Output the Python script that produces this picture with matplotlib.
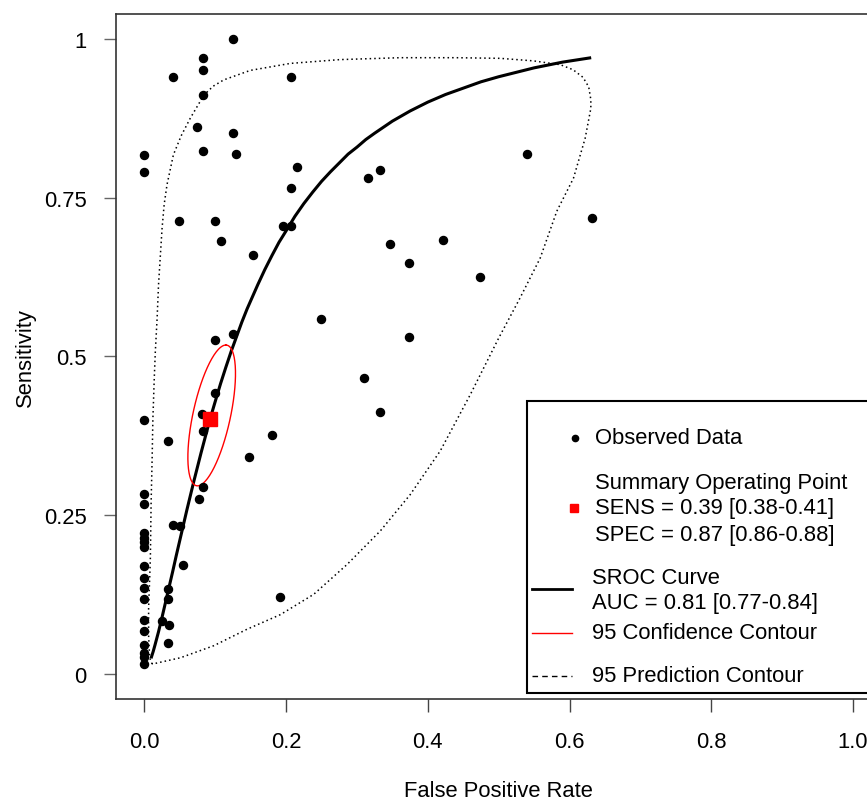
import numpy as np
import matplotlib.pyplot as plt
from matplotlib.patches import Rectangle

plt.rcParams['font.family'] = ['Liberation Sans', 'DejaVu Sans']

# observed studies (false positive rate, sensitivity)
fpr = [0.125, 0.083, 0.083, 0.041, 0.207, 0.083, 0.074, 0.125, 0.083, 0.130,
       0.000, 0.000, 0.215, 0.207, 0.332, 0.315, 0.049, 0.099, 0.196, 0.207,
       0.108, 0.346, 0.153, 0.374, 0.249, 0.374, 0.125, 0.099, 0.540, 0.631,
       0.421, 0.473, 0.310, 0.332, 0.000, 0.099, 0.082, 0.083, 0.033, 0.180,
       0.148, 0.083, 0.077, 0.000, 0.000, 0.041, 0.051, 0.000, 0.000, 0.000,
       0.000, 0.055, 0.000, 0.000, 0.000, 0.000, 0.033, 0.033, 0.192, 0.025,
       0.035, 0.033, 0.000, 0.000, 0.000, 0.000, 0.000, 0.000]
sens = [1.000, 0.971, 0.952, 0.941, 0.941, 0.912, 0.862, 0.853, 0.824, 0.819,
        0.818, 0.791, 0.798, 0.765, 0.794, 0.781, 0.714, 0.714, 0.705, 0.706,
        0.682, 0.678, 0.660, 0.647, 0.559, 0.530, 0.536, 0.526, 0.819, 0.719,
        0.683, 0.625, 0.466, 0.413, 0.400, 0.442, 0.409, 0.382, 0.367, 0.376,
        0.341, 0.294, 0.276, 0.283, 0.267, 0.235, 0.232, 0.221, 0.214, 0.207,
        0.200, 0.172, 0.169, 0.150, 0.135, 0.117, 0.134, 0.117, 0.120, 0.083,
        0.076, 0.049, 0.085, 0.067, 0.045, 0.033, 0.026, 0.015]

# summary operating point
summ_fpr, summ_sens = 0.093, 0.401

# SROC curve
sroc_fpr = [0.0094, 0.0125, 0.015, 0.02, 0.025, 0.03, 0.035, 0.04, 0.045, 0.05,
            0.055, 0.06, 0.065, 0.07, 0.075, 0.08, 0.085, 0.09, 0.095, 0.10,
            0.1075, 0.115, 0.1225, 0.13, 0.1375, 0.145, 0.1525, 0.16, 0.17, 0.18,
            0.19, 0.20, 0.2125, 0.225, 0.2375, 0.25, 0.2625, 0.275, 0.2875, 0.30,
            0.3125, 0.325, 0.35, 0.375, 0.40, 0.425, 0.45, 0.475, 0.50, 0.525,
            0.55, 0.59, 0.6305]
sroc_sens = [0.024, 0.035, 0.045, 0.066, 0.089, 0.113, 0.137, 0.161, 0.186, 0.210,
             0.234, 0.258, 0.281, 0.304, 0.326, 0.348, 0.369, 0.390, 0.410, 0.429,
             0.457, 0.483, 0.508, 0.531, 0.554, 0.575, 0.594, 0.613, 0.637, 0.659,
             0.680, 0.698, 0.721, 0.741, 0.759, 0.776, 0.791, 0.805, 0.819, 0.830,
             0.842, 0.852, 0.871, 0.887, 0.901, 0.913, 0.923, 0.933, 0.941, 0.948,
             0.955, 0.964, 0.971]

# 95% confidence ellipse: centre and two conjugate semi-diameters
conf_center = (0.095, 0.407)
conf_a = (0.020, 0.111)
conf_b = (0.027, 0.0)

# 95% prediction contour
pred_fpr = [0.011, 0.0075, 0.006, 0.006, 0.0075, 0.0085, 0.0095, 0.011, 0.012, 0.014,
            0.0155, 0.018, 0.020, 0.025, 0.028, 0.032, 0.041, 0.052, 0.065, 0.084,
            0.097, 0.112, 0.1495, 0.206, 0.276, 0.361, 0.440, 0.502, 0.549, 0.587,
            0.605, 0.619, 0.627, 0.630, 0.630, 0.622, 0.6055, 0.582, 0.5585, 0.530,
            0.500, 0.460, 0.4175, 0.375, 0.333, 0.286, 0.239, 0.192, 0.145, 0.098,
            0.051, 0.011]
pred_sens = [0.015, 0.025, 0.060, 0.104, 0.150, 0.183, 0.267, 0.340, 0.400, 0.466,
             0.508, 0.560, 0.613, 0.702, 0.740, 0.771, 0.818, 0.848, 0.876, 0.912,
             0.926, 0.936, 0.951, 0.962, 0.968, 0.971, 0.971, 0.970, 0.966, 0.960,
             0.952, 0.940, 0.925, 0.905, 0.891, 0.844, 0.781, 0.729, 0.655, 0.592,
             0.529, 0.440, 0.351, 0.282, 0.225, 0.172, 0.125, 0.093, 0.070, 0.044,
             0.025, 0.015]

xticks = [0.0, 0.2, 0.4, 0.6, 0.8, 1.0]
yticks = [0, 0.25, 0.5, 0.75, 1]
ytick_labels = ['0', '0.25', '0.5', '0.75', '1']

fs = 15.8

fig = plt.figure(figsize=(8.67, 8.03), dpi=100)
ax = fig.add_axes([0.1338, 0.1283, 0.8828, 0.8531])
ax.set_xlim(-0.04, 1.04)
ax.set_ylim(-0.04, 1.04)

ax.plot(pred_fpr, pred_sens, color='black', lw=1.1, ls=(0, (1, 2)))
ax.plot(sroc_fpr, sroc_sens, color='black', lw=2.2, solid_capstyle='butt')

t = np.linspace(0, 2 * np.pi, 200)
ex = conf_center[0] + conf_a[0] * np.cos(t) + conf_b[0] * np.sin(t)
ey = conf_center[1] + conf_a[1] * np.cos(t) + conf_b[1] * np.sin(t)
ax.plot(ex, ey, color='red', lw=1.0)

ax.plot(fpr, sens, 'o', color='black', ms=5.8, mec='black')
ax.plot(summ_fpr, summ_sens, 's', color='red', ms=10, mec='red')

# axes styling
for s in ax.spines.values():
    s.set_color('#333333')
    s.set_linewidth(1.2)
ax.set_xticks(xticks)
ax.set_xticklabels(['%.1f' % v for v in xticks])
ax.set_yticks(yticks)
ax.set_yticklabels(ytick_labels)
ax.tick_params(axis='x', length=9, width=1.0, color='#444444', pad=14, labelsize=fs)
ax.tick_params(axis='y', length=9, width=1.0, color='#666666', pad=12, labelsize=fs)

fig.text(498 / 867, 1 - 792 / 803, 'False Positive Rate', ha='center', va='center', fontsize=fs)
fig.text(25 / 867, 1 - 358 / 803, 'Sensitivity', ha='center', va='center',
         rotation=90, fontsize=fs)

# legend drawn by hand
ax.add_patch(Rectangle((0.540, -0.030), 0.7, 0.460, facecolor='white',
                       edgecolor='black', lw=1.5, zorder=5, clip_on=False))
z = 6
ax.plot(0.608, 0.372, 'o', color='black', ms=4.5, zorder=z, clip_on=False)
ax.text(0.636, 0.372, 'Observed Data', fontsize=fs, va='center', zorder=z)
ax.text(0.636, 0.301, 'Summary Operating Point', fontsize=fs, va='center', zorder=z)
ax.plot(0.606, 0.2614, 's', color='red', ms=6, zorder=z, clip_on=False)
ax.text(0.636, 0.2614, 'SENS = 0.39 [0.38-0.41]', fontsize=fs, va='center', zorder=z)
ax.text(0.636, 0.219, 'SPEC = 0.87 [0.86-0.88]', fontsize=fs, va='center', zorder=z)
ax.plot([0.547, 0.604], [0.134, 0.134], color='black', lw=2.0, zorder=z, clip_on=False)
ax.text(0.632, 0.151, 'SROC Curve', fontsize=fs, va='center', zorder=z)
ax.text(0.632, 0.112, 'AUC = 0.81 [0.77-0.84]', fontsize=fs, va='center', zorder=z)
ax.plot([0.547, 0.604], [0.0646, 0.0646], color='red', lw=1.0, zorder=z, clip_on=False)
ax.text(0.632, 0.0646, '95 Confidence Contour', fontsize=fs, va='center', zorder=z)
ax.plot([0.547, 0.604], [-0.003, -0.003], color='black', lw=1.0, ls=(0, (4, 3)),
        zorder=z, clip_on=False)
ax.text(0.632, -0.003, '95 Prediction Contour', fontsize=fs, va='center', zorder=z)

fig.savefig('out.png', dpi=100)
